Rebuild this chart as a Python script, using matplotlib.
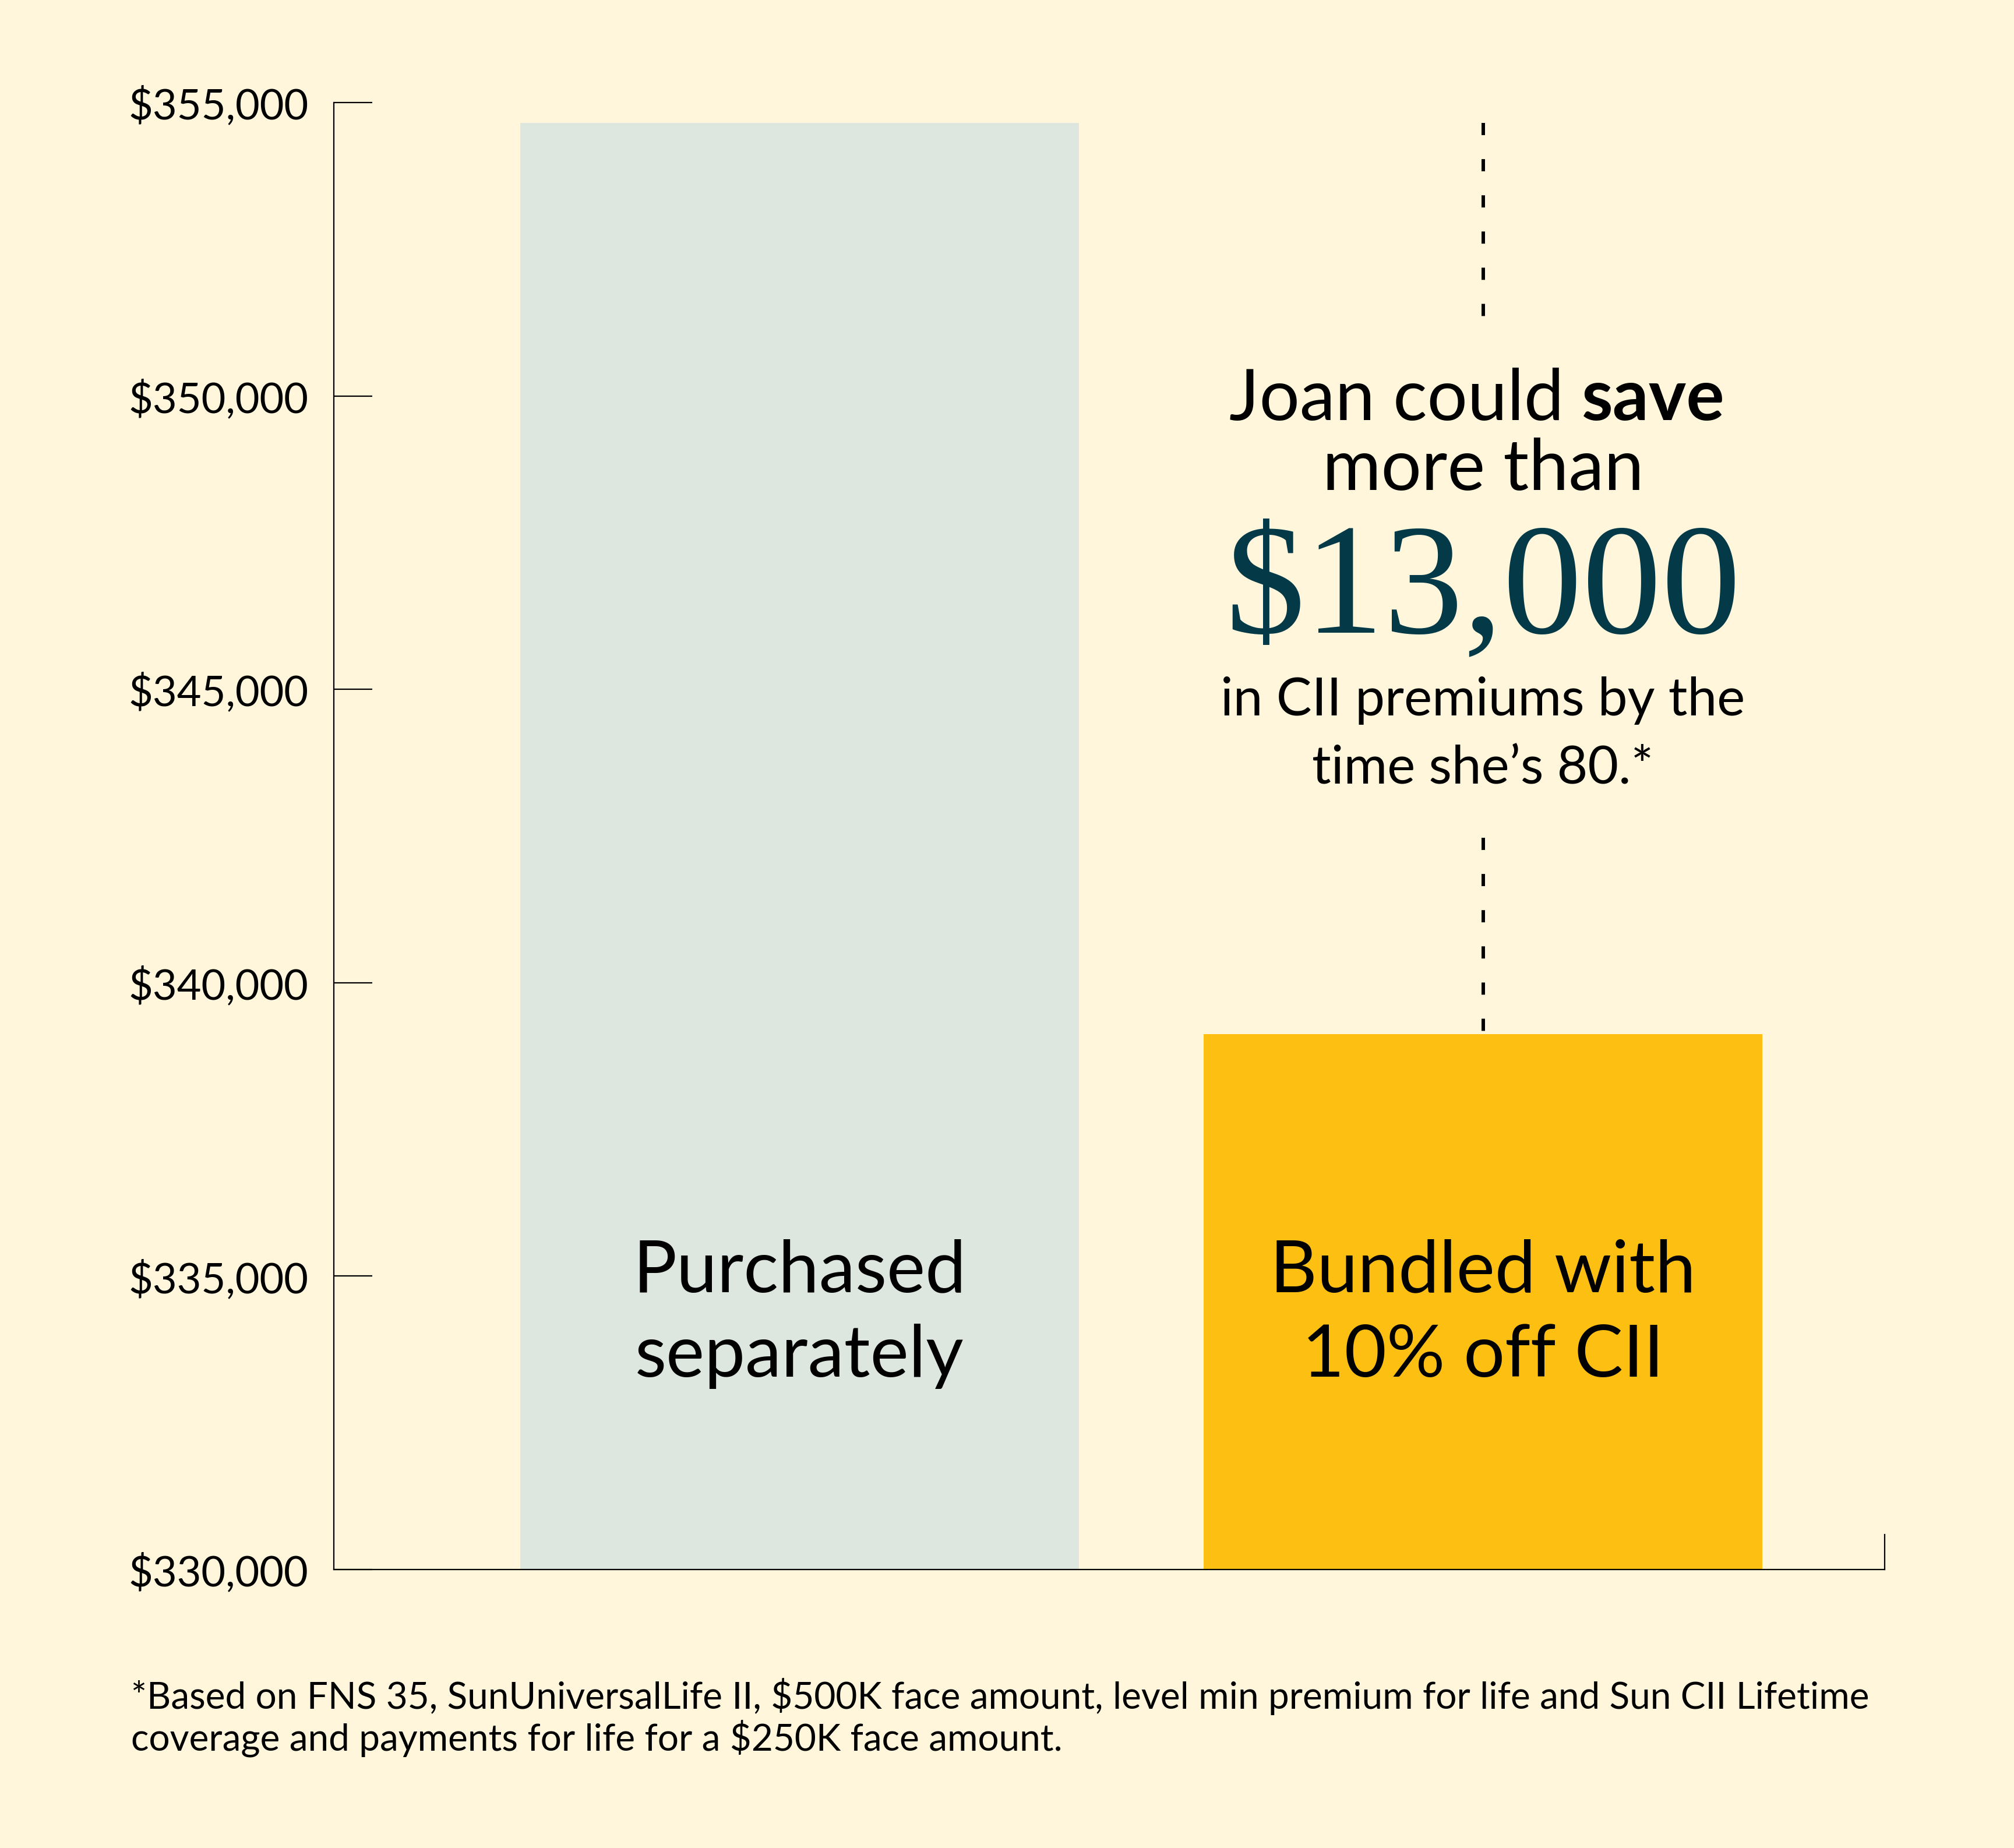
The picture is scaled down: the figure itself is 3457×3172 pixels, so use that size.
import matplotlib
matplotlib.use("Agg")
import matplotlib.pyplot as plt
import matplotlib.transforms as mtransforms

# data
categories = ["Purchased separately", "Bundled with 10% off CII"]
label_lines = [["Purchased", "separately"], ["Bundled with", "10% off CII"]]
premiums = [354650, 339120]
yticks = [330000, 335000, 340000, 345000, 350000, 355000]
ytick_labels = ["$330,000", "$335,000", "$340,000", "$345,000", "$350,000", "$355,000"]
callout_top = ["more than"]
big_number = "$13,000"
callout_bottom = ["in CII premiums by the", "time she\u2019s 80.*"]
footnote = [
    "*Based on FNS 35, SunUniversalLife II, $500K face amount, level min premium for life and Sun CII Lifetime",
    "coverage and payments for life for a $250K face amount.",
]

# colors
bg = "#fff6dc"
bar_colors = ["#dee6e0", "#fdbf12"]
teal = "#043a48"

W, H = 3457, 3172
DPI = 100
plt.rcParams["font.family"] = ["Lato", "DejaVu Sans"]

fig = plt.figure(figsize=(W / DPI, H / DPI), dpi=DPI, facecolor=bg)

def fy(py):
    return 1 - py / H

def fx(px):
    return px / W

ax = fig.add_axes([fx(573), fy(2694), fx(3235) - fx(573), fy(176) - fy(2694)])
ax.set_facecolor(bg)

x = list(range(len(categories)))
ax.bar(x, premiums, width=0.8176, color=bar_colors, zorder=1)
ax.set_xlim(-0.6816, 1.5878)
ax.set_ylim(yticks[0], yticks[-1])

ax.set_yticks(yticks)
ax.set_yticklabels(ytick_labels)
ax.set_xticks([])
ax.tick_params(axis="y", direction="in", length=47.5, width=1.6, pad=31.5,
               labelsize=52, colors="black")
ax.spines["top"].set_visible(False)
for s in ["left", "bottom", "right"]:
    ax.spines[s].set_linewidth(1.6)
    ax.spines[s].set_color("black")
ax.spines["bottom"].set_zorder(3)
ax.spines["right"].set_bounds(yticks[0], yticks[0] + 0.024 * (yticks[-1] - yticks[0]))

# dashed connector above bundled bar, with a gap for the callout text
span = yticks[-1] - yticks[0]
gap_top = yticks[0] + 0.854 * span
gap_bot = yticks[0] + 0.499 * span
dash_kw = dict(color="black", lw=4.3, linestyle=(0, (3.5, 6.9)), dash_capstyle="butt")
ax.plot([x[1], x[1]], [premiums[0], gap_top], **dash_kw)
ax.plot([x[1], x[1]], [gap_bot, premiums[1]], **dash_kw)

# bar labels
blend = mtransforms.blended_transform_factory(ax.transData, fig.transFigure)
for i, lines in enumerate(label_lines):
    for j, line in enumerate(lines):
        ax.text(x[i], fy(2217 + 146 * j), line, transform=blend, ha="center",
                va="baseline", fontsize=90, color="black")

# callout text
fig.canvas.draw()
r = fig.canvas.get_renderer()
t1 = ax.text(0, fy(721), "Joan could ", transform=blend, ha="left", va="baseline",
             fontsize=88, color="black")
t2 = ax.text(0, fy(721), "save", transform=blend, ha="left", va="baseline",
             fontsize=88, fontweight="bold", color="black")
w1 = t1.get_window_extent(r).width
w2 = t2.get_window_extent(r).width
cx = ax.transData.transform((x[1], 0))[0] - 10
left = cx - (w1 + w2) / 2
t1.set_x(ax.transData.inverted().transform((left, 0))[0])
t2.set_x(ax.transData.inverted().transform((left + w1, 0))[0])

ax.text(x[1], fy(841), callout_top[0], transform=blend, ha="center", va="baseline",
        fontsize=88, color="black")
ax.text(x[1], fy(1085), big_number, transform=blend, ha="center", va="baseline",
        fontsize=196, color=teal, family=["Liberation Serif", "DejaVu Serif"])
for j, line in enumerate(callout_bottom):
    ax.text(x[1], fy(1228 + 118 * j), line, transform=blend, ha="center", va="baseline",
            fontsize=65.5, color="black")

# footnote
for j, line in enumerate(footnote):
    fig.text(fx(225), fy(2933 + 72 * j), line, ha="left", va="baseline",
             fontsize=46, color="black")

fig.savefig("out.png", dpi=DPI, facecolor=bg)
